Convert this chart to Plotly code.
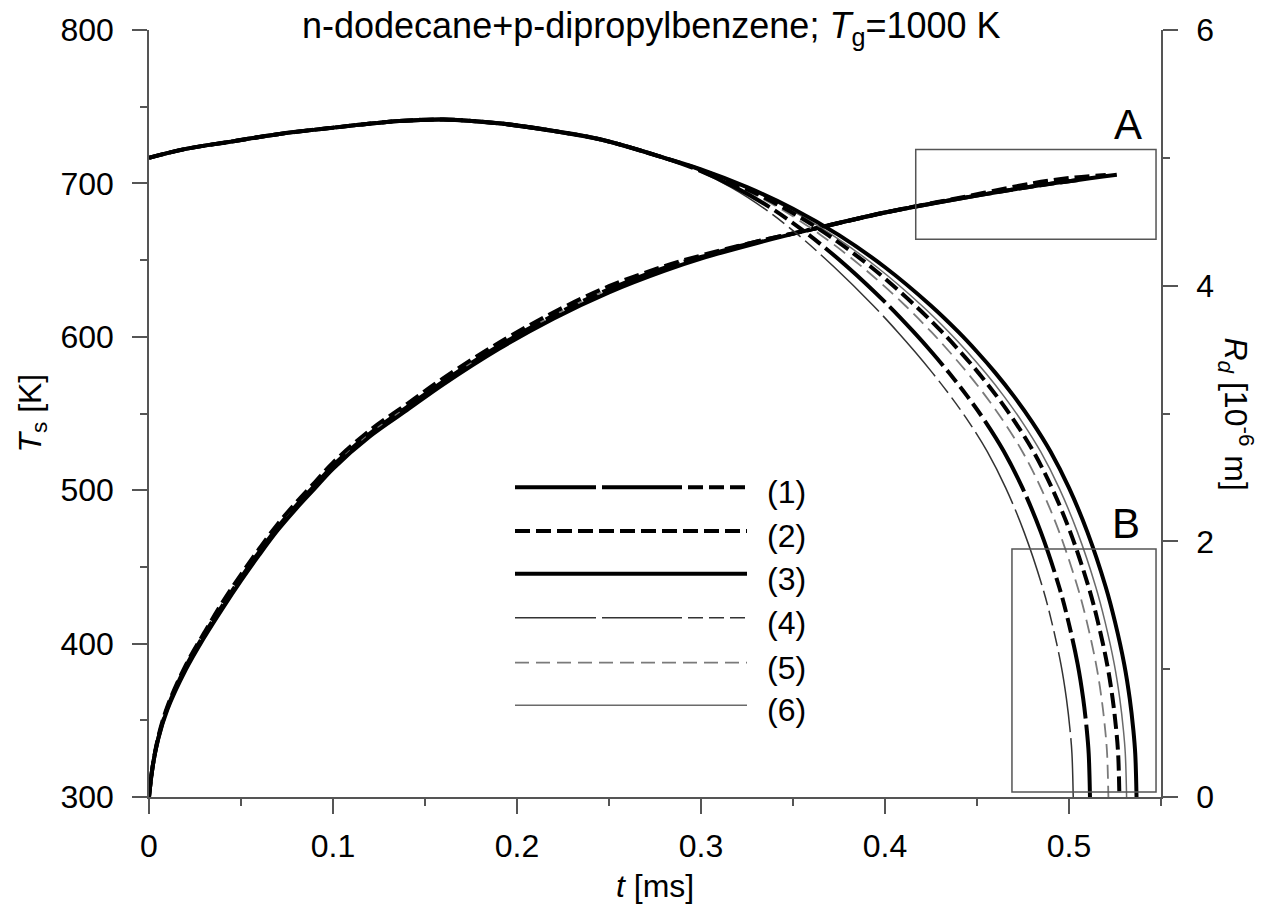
import plotly.graph_objects as go

# ---------------- data ----------------
series_names = ["(1)", "(2)", "(3)", "(4)", "(5)", "(6)"]

# surface temperature T_s [K] vs t [ms]
tT_1 = [0, 0.002, 0.005, 0.01, 0.02, 0.03, 0.04, 0.05, 0.06, 0.07, 0.08, 0.09, 0.10, 0.12, 0.14, 0.16, 0.19, 0.22, 0.25, 0.28, 0.30, 0.33, 0.36, 0.40, 0.44, 0.48, 0.505]
T_1 = [300, 320, 338, 358, 385, 406, 425, 443, 460, 476, 490, 503, 516, 537, 554, 571, 594, 614, 631, 645, 652, 662, 670, 681, 690, 698, 702.2]
tT_2 = [0, 0.002, 0.005, 0.01, 0.02, 0.03, 0.04, 0.05, 0.06, 0.07, 0.08, 0.09, 0.10, 0.12, 0.14, 0.16, 0.19, 0.22, 0.25, 0.28, 0.30, 0.33, 0.36, 0.40, 0.44, 0.48, 0.50, 0.52]
T_2 = [300, 320, 339, 359, 386, 407, 427, 445, 462, 478, 492, 505, 518, 539, 556, 573, 596, 616, 633, 646, 653, 662, 670, 681, 690.5, 700, 703.5, 705.5]
tT_3 = [0, 0.002, 0.005, 0.01, 0.02, 0.03, 0.04, 0.05, 0.06, 0.07, 0.08, 0.09, 0.10, 0.12, 0.14, 0.16, 0.19, 0.22, 0.25, 0.28, 0.30, 0.33, 0.36, 0.40, 0.44, 0.48, 0.526]
T_3 = [300, 320, 338, 357, 383, 404, 423, 441, 458, 474, 488, 501, 514, 535, 552, 569, 592, 612, 629, 643, 651, 661, 670, 681, 690, 698, 705.6]
tT_4 = [0, 0.002, 0.005, 0.01, 0.02, 0.03, 0.04, 0.05, 0.06, 0.07, 0.08, 0.09, 0.10, 0.12, 0.14, 0.16, 0.19, 0.22, 0.25, 0.28, 0.30, 0.33, 0.36, 0.40, 0.44, 0.48, 0.495]
T_4 = [300, 320, 338, 357, 384, 405, 424, 442, 459, 475, 489, 502, 515, 536, 553, 570, 593, 613, 630, 644, 651, 661, 670, 681, 690, 698, 700.5]
tT_5 = [0, 0.002, 0.005, 0.01, 0.02, 0.03, 0.04, 0.05, 0.06, 0.07, 0.08, 0.09, 0.10, 0.12, 0.14, 0.16, 0.19, 0.22, 0.25, 0.28, 0.30, 0.33, 0.36, 0.40, 0.44, 0.48, 0.512]
T_5 = [300, 320, 338, 358, 385, 406, 425, 443, 460, 476, 490, 503, 516, 537, 554, 571, 594, 614, 631, 645, 652, 662, 670, 681, 690, 698, 703.5]
tT_6 = [0, 0.002, 0.005, 0.01, 0.02, 0.03, 0.04, 0.05, 0.06, 0.07, 0.08, 0.09, 0.10, 0.12, 0.14, 0.16, 0.19, 0.22, 0.25, 0.28, 0.30, 0.33, 0.36, 0.40, 0.44, 0.48, 0.521]
T_6 = [300, 320, 338, 357, 383, 404, 423, 441, 458, 474, 488, 501, 514, 535, 552, 569, 592, 612, 629, 643, 651, 661, 670, 681, 690, 698, 704.8]

# droplet radius R_d [1e-6 m] vs t [ms]
tR_1 = [0, 0.02, 0.046, 0.07, 0.10, 0.136, 0.16, 0.19, 0.22, 0.245, 0.28, 0.2975, 0.3184, 0.3386, 0.3588, 0.3798, 0.4020, 0.4157, 0.4252, 0.4348, 0.4447, 0.4547, 0.4647, 0.4747, 0.4847, 0.4947, 0.4997, 0.5047, 0.5077, 0.5097, 0.5107, 0.5114]
tR_2 = [0, 0.02, 0.046, 0.07, 0.10, 0.136, 0.16, 0.19, 0.22, 0.245, 0.28, 0.2991, 0.3226, 0.3458, 0.3691, 0.3926, 0.4165, 0.4311, 0.4409, 0.4508, 0.4607, 0.4707, 0.4807, 0.4907, 0.5007, 0.5107, 0.5157, 0.5207, 0.5237, 0.5257, 0.5267, 0.5274]
tR_3 = [0, 0.02, 0.046, 0.07, 0.10, 0.136, 0.16, 0.19, 0.22, 0.245, 0.28, 0.30, 0.325, 0.35, 0.375, 0.40, 0.425, 0.44, 0.45, 0.46, 0.47, 0.48, 0.49, 0.50, 0.51, 0.52, 0.525, 0.53, 0.533, 0.535, 0.536, 0.5367]
tR_4 = [0, 0.02, 0.046, 0.07, 0.10, 0.136, 0.16, 0.19, 0.22, 0.245, 0.28, 0.2966, 0.3161, 0.3345, 0.3530, 0.3725, 0.3937, 0.4070, 0.4163, 0.4258, 0.4356, 0.4456, 0.4556, 0.4656, 0.4756, 0.4856, 0.4906, 0.4956, 0.4986, 0.5006, 0.5016, 0.5023]
tR_5 = [0, 0.02, 0.046, 0.07, 0.10, 0.136, 0.16, 0.19, 0.22, 0.245, 0.28, 0.2985, 0.3210, 0.3431, 0.3652, 0.3878, 0.4111, 0.4253, 0.4350, 0.4448, 0.4547, 0.4647, 0.4747, 0.4847, 0.4947, 0.5047, 0.5097, 0.5147, 0.5177, 0.5197, 0.5207, 0.5214]
tR_6 = [0, 0.02, 0.046, 0.07, 0.10, 0.136, 0.16, 0.19, 0.22, 0.245, 0.28, 0.2995, 0.3236, 0.3476, 0.3715, 0.3957, 0.4201, 0.4348, 0.4447, 0.4546, 0.4646, 0.4746, 0.4846, 0.4946, 0.5046, 0.5146, 0.5196, 0.5246, 0.5276, 0.5296, 0.5306, 0.5313]
R_all = [5.00, 5.07, 5.13, 5.185, 5.236, 5.288, 5.30, 5.27, 5.21, 5.145, 5.00, 4.91, 4.771, 4.602, 4.395, 4.144, 3.843, 3.636, 3.483, 3.318, 3.136, 2.933, 2.701, 2.418, 2.072, 1.641, 1.37, 1.04, 0.77, 0.52, 0.34, 0.0]

x_ticks = [0, 0.1, 0.2, 0.3, 0.4, 0.5]
x_ticktext = ["0", "0.1", "0.2", "0.3", "0.4", "0.5"]
yT_ticks = [300, 400, 500, 600, 700, 800]
yR_ticks = [0, 2, 4, 6]

# ---------------- styles ----------------
W, H = 1276, 910
L, R_, T_, B = 149, 1161, 27, 797
FONT = "Liberation Sans, Arial, sans-serif"
FS = 32
AX = "#555555"

styles = {
    "(1)": dict(color="black", width=4, dash="81px,6px,80px,6px,15px,6px,15px,6px,15px,6px"),
    "(2)": dict(color="black", width=4, dash="15px,6px"),
    "(3)": dict(color="black", width=4, dash="solid"),
    "(4)": dict(color="#333333", width=1.5, dash="81px,6px,80px,6px,15px,6px,15px,6px,15px,6px"),
    "(5)": dict(color="#7a7a7a", width=1.8, dash="14px,7px"),
    "(6)": dict(color="#6a6a6a", width=1.5, dash="solid"),
}

def px(x):
    return (x - L) / (R_ - L)

def py(y):
    return (B - y) / (B - T_)

fig = go.Figure()

T_data = {"(1)": (tT_1, T_1), "(2)": (tT_2, T_2), "(3)": (tT_3, T_3),
          "(4)": (tT_4, T_4), "(5)": (tT_5, T_5), "(6)": (tT_6, T_6)}
R_data = {"(1)": tR_1, "(2)": tR_2, "(3)": tR_3, "(4)": tR_4, "(5)": tR_5, "(6)": tR_6}

draw_order = ["(6)", "(5)", "(4)", "(1)", "(2)", "(3)"]
for name in draw_order:
    st = styles[name]
    tx, ty = T_data[name]
    fig.add_trace(go.Scatter(x=tx, y=ty, mode="lines", yaxis="y", showlegend=False,
                             line=dict(color=st["color"], width=st["width"], dash=st["dash"],
                                       shape="spline", smoothing=1.0),
                             hoverinfo="skip"))
    fig.add_trace(go.Scatter(x=R_data[name], y=R_all, mode="lines", yaxis="y2", showlegend=False,
                             line=dict(color=st["color"], width=st["width"], dash=st["dash"],
                                       shape="spline", smoothing=1.0),
                             hoverinfo="skip"))

shapes = []
# boxes A and B
shapes.append(dict(type="rect", xref="x", yref="y", x0=0.4167, x1=0.5473, y0=663.6, y1=722.1,
                   line=dict(color=AX, width=1.5)))
shapes.append(dict(type="rect", xref="x", yref="y", x0=0.469, x1=0.5473, y0=303.2, y1=461.7,
                   line=dict(color=AX, width=1.5)))

# legend samples
leg_y = [486, 530, 573, 617, 662, 705]
annotations = []
for name, yy in zip(series_names, leg_y):
    st = styles[name]
    shapes.append(dict(type="line", xref="paper", yref="paper", x0=px(515), x1=px(747),
                       y0=py(yy), y1=py(yy),
                       line=dict(color=st["color"], width=st["width"], dash=st["dash"])))
    annotations.append(dict(xref="paper", yref="paper", x=px(765), y=py(yy + 5), text=name,
                            showarrow=False, xanchor="left", yanchor="middle",
                            font=dict(family=FONT, size=FS, color="black")))

annotations += [
    dict(xref="paper", yref="paper", x=px(651), y=py(25),
         text="n-dodecane+p-dipropylbenzene; <i>T</i><sub>g</sub>=1000 K",
         showarrow=False, xanchor="center", yanchor="middle",
         font=dict(family=FONT, size=36, color="black")),
    dict(xref="paper", yref="paper", x=px(1128), y=py(122), text="A", showarrow=False,
         xanchor="center", yanchor="middle", font=dict(family=FONT, size=42, color="black")),
    dict(xref="paper", yref="paper", x=px(1126), y=py(522), text="B", showarrow=False,
         xanchor="center", yanchor="middle", font=dict(family=FONT, size=42, color="black")),
    dict(xref="paper", yref="paper", x=px(32), y=0.5, text="<i>T</i><sub>s</sub> [K]",
         showarrow=False, textangle=-90, xanchor="center", yanchor="middle",
         font=dict(family=FONT, size=FS, color="black")),
    dict(xref="paper", yref="paper", x=px(1236), y=0.5,
         text="<i>R</i><sub><i>d</i></sub> [10<sup>-6</sup> m]",
         showarrow=False, textangle=90, xanchor="center", yanchor="middle",
         font=dict(family=FONT, size=FS, color="black")),
    dict(xref="paper", yref="paper", x=0.5, y=py(886), text="<i>t</i> [ms]",
         showarrow=False, xanchor="center", yanchor="middle",
         font=dict(family=FONT, size=FS, color="black")),
]

axis_common = dict(showline=True, linecolor=AX, linewidth=1.5, ticks="outside", ticklen=15,
                   tickwidth=1.5, tickcolor=AX, showgrid=False, zeroline=False,
                   tickfont=dict(family=FONT, size=FS, color="black"))

fig.update_layout(
    width=W, height=H,
    margin=dict(l=L, r=W - R_, t=T_, b=H - B, pad=0),
    paper_bgcolor="white", plot_bgcolor="white",
    showlegend=False,
    xaxis=dict(range=[0, 0.55], tickvals=x_ticks, ticktext=x_ticktext, ticklabelstandoff=5,
               minor=dict(ticks="outside", ticklen=7, tickwidth=1.5, tickcolor=AX,
                          tickvals=[0.05, 0.15, 0.25, 0.35, 0.45, 0.55]),
               **axis_common),
    yaxis=dict(range=[300, 800], tickvals=yT_ticks, ticklabelstandoff=12,
               minor=dict(ticks="outside", ticklen=7, tickwidth=1.5, tickcolor=AX,
                          tickvals=[350, 450, 550, 650, 750]),
               **axis_common),
    yaxis2=dict(range=[0, 6], tickvals=yR_ticks, overlaying="y", side="right",
                ticklabelstandoff=12,
                minor=dict(ticks="outside", ticklen=7, tickwidth=1.5, tickcolor=AX,
                           tickvals=[1, 3, 5]),
                **axis_common),
    shapes=shapes,
    annotations=annotations,
)

fig.write_html("out.html")
